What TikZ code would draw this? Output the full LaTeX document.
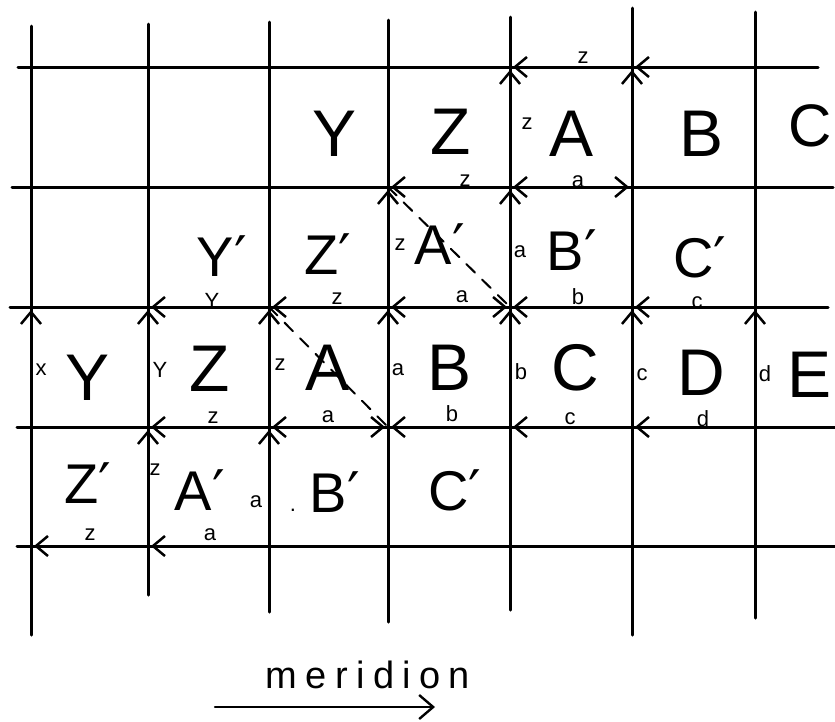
\documentclass[tikz,border=0pt]{standalone}
\usepackage{fontspec}
\setmainfont{Liberation Sans}
\newfontfamily\primefont{DejaVu Sans}
\usetikzlibrary{arrows.meta}
\newcommand{\pr}{{\primefont\char"2032}}

\begin{document}
\begin{tikzpicture}[x=1pt,y=-1pt,line cap=round,line join=round,
  gridline/.style={line width=3pt},
  barb/.style={line width=2.5pt,-{Straight Barb[length=12pt,width=20pt]}},
  bigch/.style={font=\fontsize{66}{70}\selectfont,inner sep=0pt,anchor=base},
  midch/.style={font=\fontsize{56}{60}\selectfont,inner sep=0pt,anchor=base},
  lbl/.style={font=\fontsize{22}{24}\selectfont,inner sep=0pt},
  diag/.style={line width=2pt,dash pattern=on 12pt off 10pt}]
  \useasboundingbox (0,0) rectangle (835,721);

  % crossing points of the grid
  \foreach \x [count=\i] in {31,148,269,388,510,632,755}
    \foreach \y [count=\j from 0] in {67,187,307,427,546}
      \coordinate (p-\i-\j) at (\x,\y);

  % grid
  \foreach \x/\t/\b in {31/26/635,148/24/595,269/22/612,388/20/622,510/17/610,632/8/635,755/12/618}
    \draw[gridline] (\x,\t) -- (\x,\b);
  \foreach \y/\l/\r in {67/18/818,187/12/833,307/10/828,427/17/835,546/17/835}
    \draw[gridline] (\l,\y) -- (\r,\y);

  % diagonals
  \draw[diag] (p-3-2) -- (p-4-3);
  \draw[diag] (p-4-1) -- (p-5-2);

  % arrow heads at the crossings
  \foreach \i/\j in {5/0,6/0,4/1,5/1,2/2,3/2,4/2,5/2,6/2,2/3,3/3,4/3,5/3,6/3,1/4,2/4}
    \draw[barb] ([xshift=24pt]p-\i-\j) -- ([xshift=3pt]p-\i-\j);
  \foreach \i/\j in {6/1,5/2,4/3}
    \draw[barb] ([xshift=-24pt]p-\i-\j) -- ([xshift=-3pt]p-\i-\j);
  \foreach \i/\j in {5/0,6/0,4/1,5/1,1/2,2/2,3/2,4/2,5/2,6/2,7/2,2/3,3/3}
    \draw[barb] ([yshift=-24pt]p-\i-\j) -- ([yshift=-3pt]p-\i-\j);

  % first row
  \node[bigch] (Y0) at (335,156) {Y};
  \node[bigch] (Z0) at (451,154) {Z};
  \node[bigch] (A0) at (572,156) {A};
  \node[bigch] (B0) at (702,156) {B};
  \node[bigch,font=\fontsize{60}{64}\selectfont] (C0) at (810,146) {C};
  % second row
  \node[midch] (Y1) at (222,276) {Y\pr};
  \node[midch] (Z1) at (328,274) {Z\pr};
  \node[midch] (A1) at (440,264) {A\pr};
  \node[midch] (B1) at (572,270) {B\pr};
  \node[midch] (C1) at (700,277) {C\pr};
  % third row
  \node[bigch] (Y2) at (88,400) {Y};
  \node[bigch] (Z2) at (210,391) {Z};
  \node[bigch] (A2) at (328,390) {A};
  \node[bigch] (B2) at (450,390) {B};
  \node[bigch] (C2) at (575,390) {C};
  \node[bigch] (D2) at (701,395) {D};
  \node[bigch] (E2) at (810,397) {E};
  % fourth row
  \node[midch] (Z3) at (88,503) {Z\pr};
  \node[midch] (A3) at (200,510) {A\pr};
  \node[midch] (B3) at (335,512) {B\pr};
  \node[midch] (C3) at (455,510) {C\pr};
  \node[lbl] (dot) at (293,510) {.};

  % labels on the horizontal lines
  \node[lbl] (h-z0) at (583,58) {z};
  \node[lbl] (h-z1) at (465,181) {z};
  \node[lbl] (h-a1) at (578,182) {a};
  \node[lbl] (h-Y2) at (212,301) {Y};
  \node[lbl] (h-z2) at (337,299) {z};
  \node[lbl] (h-a2) at (462,297) {a};
  \node[lbl] (h-b2) at (578,297) {b};
  \node[lbl] (h-c2) at (697,303) {c};
  \node[lbl] (h-z3) at (213,418) {z};
  \node[lbl] (h-a3) at (328,417) {a};
  \node[lbl] (h-b3) at (452,414) {b};
  \node[lbl] (h-c3) at (570,419) {c};
  \node[lbl] (h-d3) at (703,419) {d};
  \node[lbl] (h-z4) at (90,535) {z};
  \node[lbl] (h-a4) at (210,535) {a};

  % labels on the vertical lines
  \node[lbl] (v-z0) at (527,124) {z};
  \node[lbl] (v-z1) at (400,245) {z};
  \node[lbl] (v-a1) at (520,252) {a};
  \node[lbl] (v-x2) at (41,370) {x};
  \node[lbl] (v-Y2) at (160,370) {Y};
  \node[lbl] (v-z2) at (280,365) {z};
  \node[lbl] (v-a2) at (398,370) {a};
  \node[lbl] (v-b2) at (521,372) {b};
  \node[lbl] (v-c2) at (642,375) {c};
  \node[lbl] (v-d2) at (765,374) {d};
  \node[lbl] (v-z3) at (155,470) {z};
  \node[lbl] (v-a3) at (256,502) {a};

  % direction of the meridian
  \node[font=\fontsize{38}{40}\selectfont\addfontfeature{LetterSpace=22},inner sep=0pt,anchor=base] (mer) at (368,688) {meridion};
  \coordinate (merL) at (215,707);
  \coordinate (merR) at (435,707);
  \draw[line width=2.4pt,-{Straight Barb[length=14pt,width=24pt]}] (merL) -- (merR);
\end{tikzpicture}
\end{document}
